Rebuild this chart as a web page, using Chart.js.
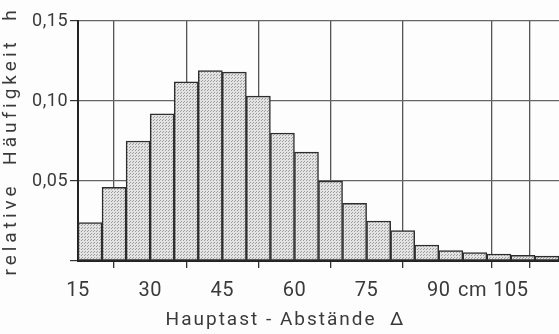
<!DOCTYPE html>
<html lang="de">
<head>
<meta charset="UTF-8">
<title>Hauptast-Abstände</title>
<script src="https://cdn.jsdelivr.net/npm/chart.js"></script>
<style>
  html, body { margin: 0; padding: 0; background: #fdfdfd; }
  #wrap { width: 559px; height: 334px; }
</style>
</head>
<body>
<div id="wrap"><canvas id="histChart"></canvas></div>
<script>
// Klassen (linke Grenze, Breite 5 cm) und relative Häufigkeiten
const binStart = [15, 20, 25, 30, 35, 40, 45, 50, 55, 60, 65, 70, 75, 80, 85, 90, 95, 100, 105, 110];
const binWidth = 5;
const haeufigkeit = [0.024, 0.046, 0.075, 0.092, 0.112, 0.119, 0.118, 0.103, 0.080, 0.068,
                     0.050, 0.036, 0.025, 0.019, 0.010, 0.0065, 0.0053, 0.0044, 0.0036, 0.003];
const xTicks = [15, 30, 45, 60, 75, 90, 97, 105];
const yTicks = [0, 0.05, 0.10, 0.15];

// gepunktete Füllung wie im Druck
function stipple() {
  const c = document.createElement('canvas');
  c.width = 3; c.height = 3;
  const g = c.getContext('2d');
  g.fillStyle = '#e3e3e3';
  g.fillRect(0, 0, 3, 3);
  g.fillStyle = '#9c9c9c';
  g.fillRect(0, 0, 1, 1);
  g.fillRect(1, 2, 1, 1);
  return g.createPattern(c, 'repeat');
}

// Sperrschrift: Beschriftung leicht, Achsentitel stärker gesperrt
const spacing = {
  id: 'spacing',
  beforeLayout(chart) { chart.ctx.letterSpacing = '0.5px'; },
  beforeDraw(chart) { chart.ctx.letterSpacing = '0.5px'; }
};
function spacedTitle(s, px, dx) {
  s.drawTitle = function () {
    const c = this.ctx;
    c.save();
    c.letterSpacing = px;
    c.translate(dx, 0);
    Chart.Scale.prototype.drawTitle.call(this);
    c.restore();
  };
}

const ctx = document.getElementById('histChart').getContext('2d');
const txt = '#3a3a3a';

new Chart(ctx, {
  type: 'bar',
  data: {
    datasets: [{
      data: binStart.map((s, i) => ({ x: s + binWidth / 2, y: haeufigkeit[i] })),
      backgroundColor: stipple(),
      borderColor: '#2e2e2e',
      borderWidth: 1.5,
      borderSkipped: false,
      barPercentage: 1,
      categoryPercentage: 1
    }]
  },
  options: {
    responsive: true,
    maintainAspectRatio: false,
    animation: false,
    layout: { padding: { top: 21, right: 0, left: 0, bottom: 0 } },
    plugins: { legend: { display: false }, tooltip: { enabled: false } },
    scales: {
      x: {
        type: 'linear',
        min: 15,
        max: 115,
        offset: false,
        afterBuildTicks: s => { s.ticks = xTicks.map(v => ({ value: v })); },
        afterFit: s => { s.height = 73; spacedTitle(s, '2px', -33); },
        ticks: {
          autoSkip: false,
          maxRotation: 0,
          padding: 11,
          color: txt,
          font: { family: 'Roboto', size: 20 },
          callback: v => v === 97 ? 'cm' : String(v)
        },
        grid: {
          color: c => c.tick && c.tick.value === 97 ? 'rgba(0,0,0,0)' : '#555',
          tickColor: c => c.tick && c.tick.value === 97 ? 'rgba(0,0,0,0)' : '#333',
          lineWidth: 1.3,
          tickLength: 7
        },
        border: { color: '#222', width: 2 },
        title: {
          display: true,
          text: 'Hauptast - Abstände  Δ',
          color: txt,
          font: { family: 'Roboto', size: 19 },
          padding: { top: 0, bottom: 2 }
        }
      },
      y: {
        min: 0,
        max: 0.15,
        z: 1,
        afterBuildTicks: s => { s.ticks = yTicks.map(v => ({ value: v })); },
        afterFit: s => { s.width = 78; spacedTitle(s, '4px', 0); },
        ticks: {
          padding: 2,
          color: txt,
          font: { family: 'Roboto', size: 18 },
          callback: v => v === 0 ? '' : v.toFixed(2).replace('.', ',')
        },
        grid: { color: '#666', lineWidth: 1.2, tickLength: 8, tickColor: '#333' },
        border: { color: '#222', width: 2 },
        title: {
          display: true,
          text: 'relative  Häufigkeit  h',
          color: txt,
          font: { family: 'Roboto', size: 19 },
          padding: { top: 0, bottom: 0 }
        }
      }
    }
  },
  plugins: [spacing]
});
</script>
</body>
</html>
